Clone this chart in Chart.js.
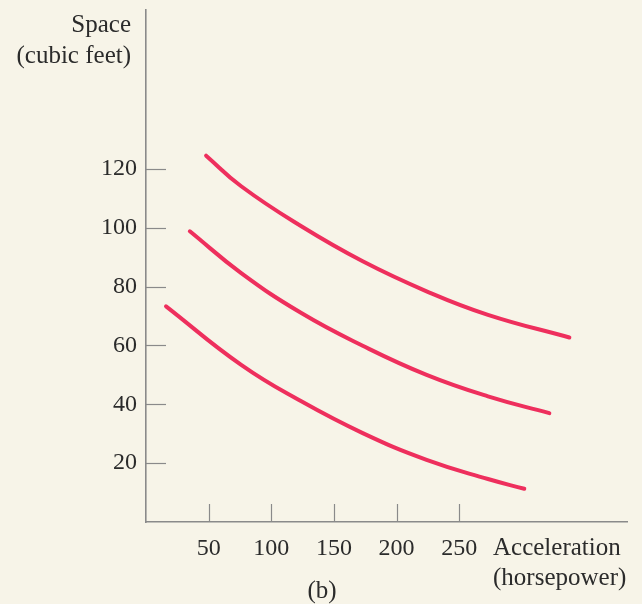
<!DOCTYPE html>
<html>
<head>
<meta charset="utf-8">
<script src="https://cdn.jsdelivr.net/npm/chart.js@4"></script>
<style>
  html, body { margin: 0; padding: 0; background: #f7f4e8; }
  #wrap { width: 642px; height: 604px; position: relative; }
</style>
</head>
<body>
<div id="wrap"><canvas id="chart" width="642" height="604"></canvas></div>
<script>
// --- Datos ---
const xTicks = [50, 100, 150, 200, 250];
const yTicks = [20, 40, 60, 80, 100, 120];

const topX = [48, 76, 124, 173, 224, 273, 338];
const topY = [124.5, 114.1, 100.5, 88.6, 78.4, 70.4, 62.7];

const midX = [35, 76, 124, 173, 224, 273, 322];
const midY = [98.8, 84.6, 71.0, 59.9, 50.0, 42.7, 37.0];

const lowX = [16, 76, 124, 173, 224, 273, 302];
const lowY = [73.3, 53.4, 41.0, 30.2, 21.1, 14.6, 11.3];

const yTitle = ["Space", "(cubic feet)"];
const xTitle = ["Acceleration", "(horsepower)"];
const caption = "(b)";

// --- Estilo ---
const FONT = "'Liberation Serif', serif";
const INK = "#2b2b2b";
const AXIS = "#8a8a8a";
const CURVE = "#ee2f5d";

const pts = (xs, ys) => xs.map((x, i) => ({ x, y: ys[i] }));
const curve = (xs, ys) => ({
  data: pts(xs, ys),
  borderColor: CURVE,
  borderWidth: 4,
  borderCapStyle: "round",
  pointRadius: 0,
  tension: 0.45,
  fill: false
});

// --- Marcas hacia dentro + textos ---
const decor = {
  id: "decor",
  afterDraw(chart) {
    const { ctx } = chart;
    const xs = chart.scales.x, ys = chart.scales.y;
    const x0 = xs.left, y0 = ys.bottom;
    ctx.save();
    ctx.strokeStyle = AXIS;
    ctx.lineWidth = 1.2;
    xTicks.forEach(v => {
      const px = Math.round(xs.getPixelForValue(v)) + 0.5;
      ctx.beginPath(); ctx.moveTo(px, y0); ctx.lineTo(px, y0 - 18); ctx.stroke();
    });
    yTicks.forEach(v => {
      const py = Math.round(ys.getPixelForValue(v)) + 0.5;
      ctx.beginPath(); ctx.moveTo(x0, py); ctx.lineTo(x0 + 20, py); ctx.stroke();
    });

    ctx.fillStyle = INK;
    ctx.font = `25px ${FONT}`;
    ctx.textBaseline = "middle";
    ctx.textAlign = "right";
    ctx.fillText(yTitle[0], 131, 25);
    ctx.fillText(yTitle[1], 131, 56);
    ctx.textAlign = "left";
    ctx.fillText(xTitle[0], 493, 548);
    ctx.fillText(xTitle[1], 493, 578);
    ctx.textAlign = "center";
    ctx.fillText(caption, 322, 591);
    ctx.restore();
  }
};

// --- Init ---
document.addEventListener("DOMContentLoaded", () => {
  new Chart(document.getElementById("chart"), {
    type: "line",
    data: { datasets: [curve(topX, topY), curve(midX, midY), curve(lowX, lowY)] },
    options: {
      responsive: false,
      animation: false,
      layout: { padding: { top: 10, right: 15, left: 0, bottom: 0 } },
      plugins: { legend: { display: false }, tooltip: { enabled: false } },
      scales: {
        x: {
          type: "linear",
          min: 0, max: 384,
          afterBuildTicks: s => { s.ticks = xTicks.map(value => ({ value })); },
          afterFit: s => { s.height = 82; s.paddingLeft = 0; s.paddingRight = 0; },
          grid: { drawOnChartArea: false, drawTicks: false },
          border: { color: AXIS, width: 1.6 },
          ticks: { color: INK, font: { family: FONT, size: 24 }, padding: 12, maxRotation: 0 }
        },
        y: {
          type: "linear",
          min: 0, max: 174,
          afterBuildTicks: s => { s.ticks = yTicks.map(value => ({ value })); },
          afterFit: s => { s.width = 146; s.paddingTop = 0; s.paddingBottom = 0; },
          grid: { drawOnChartArea: false, drawTicks: false },
          border: { color: AXIS, width: 1.6 },
          ticks: { color: INK, font: { family: FONT, size: 24 }, padding: 9 }
        }
      }
    },
    plugins: [decor]
  });
});
</script>
</body>
</html>
